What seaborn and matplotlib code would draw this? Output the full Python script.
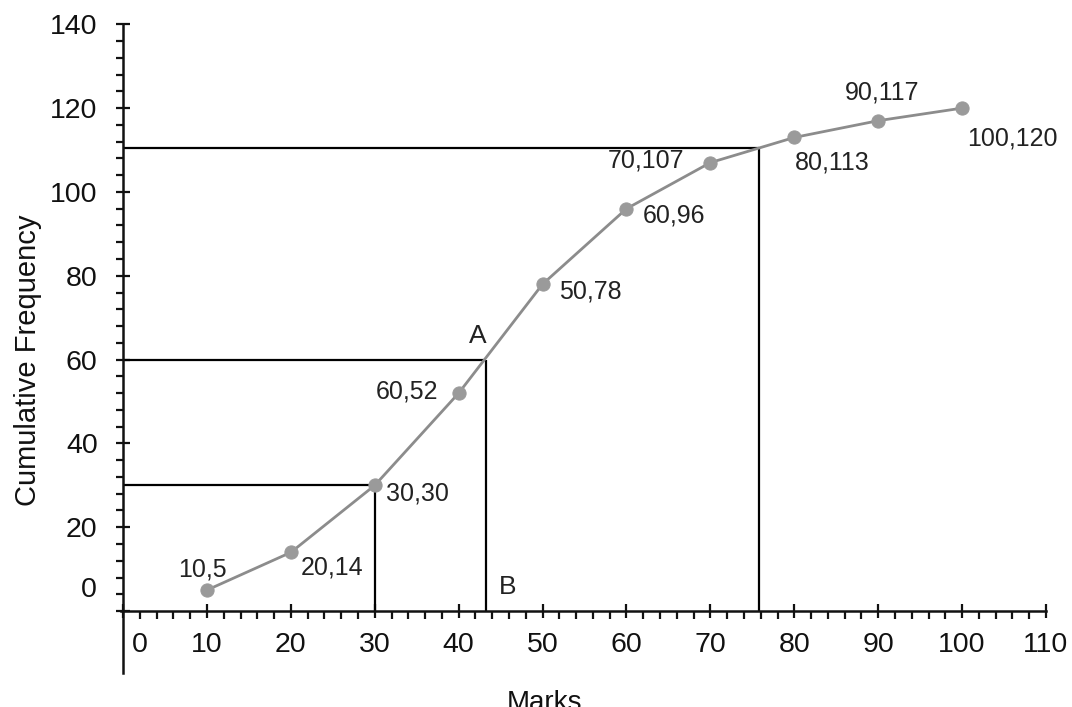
import numpy as np
import pandas as pd
import matplotlib
matplotlib.use("Agg")
import matplotlib.pyplot as plt
import seaborn as sns

# ==========================================
# DATA
# ==========================================
marks = [10, 20, 30, 40, 50, 60, 70, 80, 90, 100]
cum_freq = [5, 14, 30, 52, 78, 96, 107, 113, 117, 120]
point_labels = ["10,5", "20,14", "30,30", "60,52", "50,78",
                "60,96", "70,107", "80,113", "90,117", "100,120"]

x_ticks = [10, 20, 30, 40, 50, 60, 70, 80, 90, 100, 110]
y_ticks = [20, 40, 60, 80, 100, 120, 140]

# reading lines on the ogive: (marks, cumulative frequency)
guide_x = [30, 43.3, 75.8]
guide_y = [30, 60, 110.5]

# label offsets in pixels from each point
label_offsets = [(-5, 21), (41, -15), (43, -8), (-52, 2), (48, -7),
                 (48, -7), (-64, 2), (38, -25), (4, 28), (50, -30)]

df = pd.DataFrame({"Marks": marks, "CF": cum_freq})

# ==========================================
# STYLE
# ==========================================
sns.set_style("ticks")
plt.rcParams["font.family"] = ["Liberation Sans", "DejaVu Sans"]

fig = plt.figure(figsize=(10.72, 7.07), dpi=100)
ax = fig.add_axes([0, 0, 1, 1])
ax.set_xlim(-14.67, 113.1)
ax.set_ylim(-22.9, 145.8)

# guide lines
for gx, gy in zip(guide_x, guide_y):
    ax.hlines(gy, 0, gx, color="black", lw=1.6, zorder=2)
    ax.vlines(gx, 0, gy, color="black", lw=1.6, zorder=2)

# ogive
sns.lineplot(data=df, x="Marks", y="CF", ax=ax, color="#8c8c8c", lw=2,
             marker="o", markersize=9.5, markerfacecolor="#9a9a9a",
             markeredgecolor="#9a9a9a", zorder=3)

for x, y, lab, off in zip(marks, cum_freq, point_labels, label_offsets):
    ax.annotate(lab, (x, y), xytext=off, textcoords="offset pixels",
                ha="center", va="center", fontsize=18, color="#222222")

ax.annotate("A", (guide_x[1], guide_y[1]), xytext=(-9, 24),
            textcoords="offset pixels", ha="center", va="center",
            fontsize=19, color="#222222")
ax.annotate("B", (guide_x[1], 0), xytext=(21, 24),
            textcoords="offset pixels", ha="center", va="center",
            fontsize=19, color="#222222")

# ==========================================
# AXES
# ==========================================
for side in ["top", "right"]:
    ax.spines[side].set_visible(False)
ax.spines["left"].set_position(("data", 0))
ax.spines["bottom"].set_position(("data", 0))
ax.spines["left"].set_bounds(-14.8, 140)
ax.spines["bottom"].set_bounds(-0.3, 110)
for side in ["left", "bottom"]:
    ax.spines[side].set_linewidth(1.8)
    ax.spines[side].set_color("#111111")

ax.set_xticks([0] + x_ticks, [""] + [str(t) for t in x_ticks])
ax.set_yticks([0] + y_ticks, [""] + [str(t) for t in y_ticks])
ax.set_xticks(np.arange(0, 111, 2), minor=True)
ax.set_yticks(np.arange(0, 141, 4), minor=True)

ax.tick_params(axis="x", which="major", direction="inout", length=9.5,
               width=1.6, pad=10, labelsize=20.5, colors="#111111")
ax.tick_params(axis="x", which="minor", direction="out", length=6,
               width=1.6, colors="#111111")
ax.tick_params(axis="y", which="major", direction="inout", length=10.5,
               width=1.6, pad=13, labelsize=20.5, colors="#111111")
ax.tick_params(axis="y", which="minor", direction="out", length=5,
               width=1.6, colors="#111111")

ax.annotate("0", (0, 0), xytext=(17, -34), textcoords="offset pixels",
            ha="center", va="center", fontsize=20.5, color="#111111")
ax.annotate("0", (0, 0), xytext=(-26, 21), textcoords="offset pixels",
            ha="right", va="center", fontsize=20.5, color="#111111")

ax.set_xlabel("Marks", fontsize=20, color="#111111")
ax.set_ylabel("Cumulative Frequency", fontsize=21, color="#111111")
ax.xaxis.set_label_coords(0.508, 0.024)
ax.yaxis.set_label_coords(0.026, 0.49)
ax.xaxis.label.set_va("top")
ax.yaxis.label.set_va("center")

fig.savefig("out.png", dpi=100)
